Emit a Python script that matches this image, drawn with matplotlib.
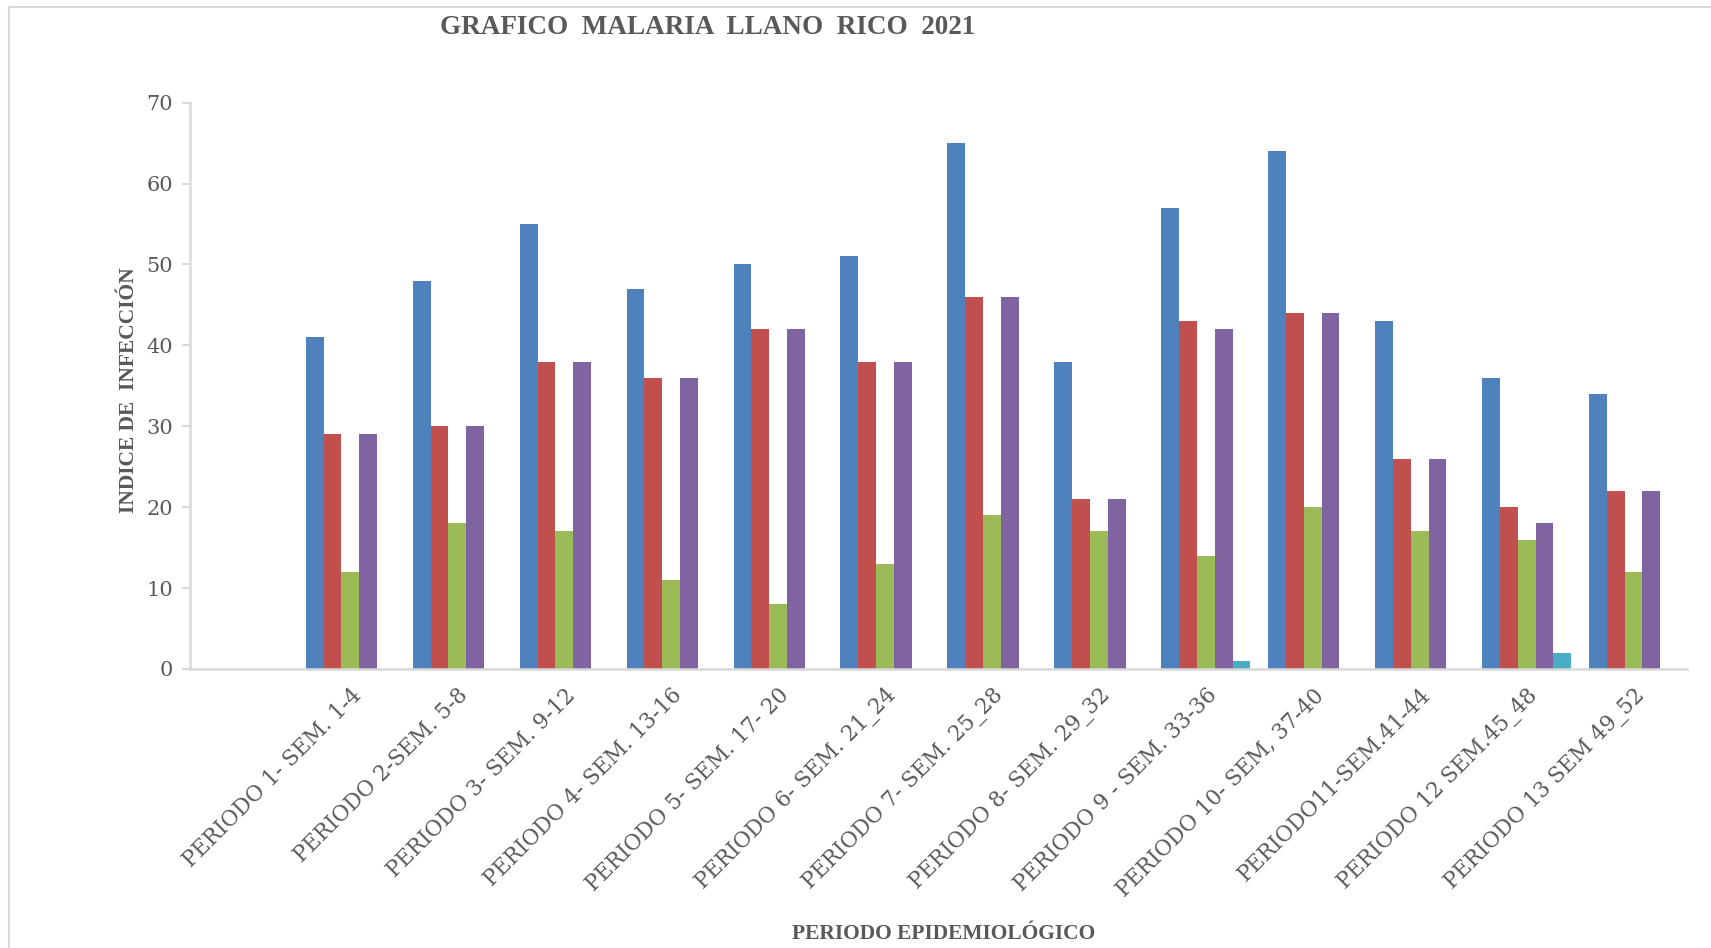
import matplotlib
matplotlib.use("Agg")
import matplotlib.pyplot as plt
from matplotlib.lines import Line2D
import numpy as np

categories = ["", "PERIODO 1- SEM. 1-4", "PERIODO 2-SEM. 5-8", "PERIODO 3- SEM. 9-12",
              "PERIODO 4- SEM. 13-16", "PERIODO 5- SEM. 17- 20", "PERIODO 6- SEM. 21_24",
              "PERIODO 7- SEM. 25_28", "PERIODO 8- SEM. 29_32", "PERIODO 9 - SEM. 33-36",
              "PERIODO 10- SEM, 37-40", "PERIODO11-SEM.41-44", "PERIODO 12 SEM.45_48",
              "PERIODO 13 SEM 49_52"]
serie_azul = [None, 41, 48, 55, 47, 50, 51, 65, 38, 57, 64, 43, 36, 34]
serie_roja = [None, 29, 30, 38, 36, 42, 38, 46, 21, 43, 44, 26, 20, 22]
serie_verde = [None, 12, 18, 17, 11, 8, 13, 19, 17, 14, 20, 17, 16, 12]
serie_morada = [None, 29, 30, 38, 36, 42, 38, 46, 21, 42, 44, 26, 18, 22]
serie_cian = [None, 0, 0, 0, 0, 0, 0, 0, 0, 1, 0, 0, 2, 0]
yticks = [0, 10, 20, 30, 40, 50, 60, 70]

colors = ["#4F81BD", "#C0504D", "#9BBB59", "#8064A2", "#4BACC6"]
series = [serie_azul, serie_roja, serie_verde, serie_morada, serie_cian]

W, H = 1711, 948
fig = plt.figure(figsize=(W / 100, H / 100), dpi=100)
ax = fig.add_axes([190 / W, 1 - 669 / H, (1687 - 190) / W, (669 - 102.6) / H])

x = np.arange(len(categories))
bw = 1 / 6
for i, (s, c) in enumerate(zip(series, colors)):
    vals = np.array([np.nan if v is None else v for v in s], dtype=float)
    ax.bar(x + (i - 2) * bw, vals, width=bw, color=c, linewidth=0)

ax.set_xlim(-0.5, len(categories) - 0.5)
ax.set_ylim(0, 70)
ax.set_yticks(yticks)
ax.set_yticklabels([str(t) for t in yticks], fontsize=15, family="DejaVu Serif", color="#595959")
ax.set_xticks(x)
ax.set_xticklabels(categories, rotation=45, ha="right", rotation_mode="anchor",
                   fontsize=15.5, family="DejaVu Serif", color="#595959")
ax.tick_params(axis="x", length=0, pad=11)
ax.tick_params(axis="y", length=6, color="#D9D9D9", width=1.5, pad=6)
for sp in ["top", "right"]:
    ax.spines[sp].set_visible(False)
for sp in ["left", "bottom"]:
    ax.spines[sp].set_color("#D9D9D9")
    ax.spines[sp].set_linewidth(1.8)

fig.text(708 / W, 1 - 27 / H, "GRAFICO  MALARIA  LLANO  RICO  2021", ha="center", va="center",
         fontsize=19.5, fontweight="bold", family="Liberation Serif", color="#595959")
fig.text(129 / W, 1 - 390 / H, "INDICE DE  INFECCIÓN", ha="center", va="center", rotation=90,
         fontsize=15.5, fontweight="bold", family="Liberation Serif", color="#595959")
fig.text(944 / W, 1 - 934 / H, "PERIODO EPIDEMIOLÓGICO", ha="center", va="center",
         fontsize=15.5, fontweight="bold", family="Liberation Serif", color="#595959")

fig.add_artist(Line2D([9 / W, 9 / W], [0, 1 - 7 / H], transform=fig.transFigure, color="#D9D9D9", lw=1.5))
fig.add_artist(Line2D([9 / W, 1], [1 - 7 / H, 1 - 7 / H], transform=fig.transFigure, color="#D9D9D9", lw=1.5))

fig.savefig("out.png", dpi=100)
